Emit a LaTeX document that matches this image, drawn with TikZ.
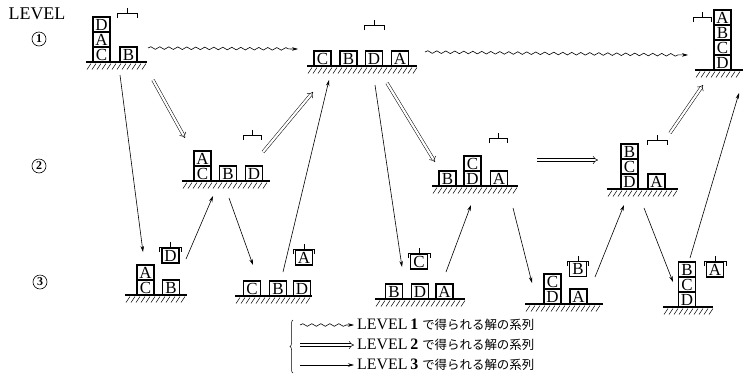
\documentclass[tikz,border=0pt]{standalone}
\usepackage{fontspec}
\setmainfont{Liberation Serif}
\newfontfamily\jpfont{Noto Sans CJK JP}
\usepackage{tikz}
\usetikzlibrary{arrows.meta,decorations.pathmorphing,decorations.pathreplacing}

% ground line with short hatching below: x1, x2, y
\newcommand{\groundline}[3]{%
  \draw[floor] (#1,#3) -- (#2,#3);
  \pgfmathtruncatemacro{\nh}{(#2-#1)/5}
  \foreach \i in {1,...,\nh} {\draw[hatch] (#1+\i*5,#3+1.5) -- ++(-4,6);}
}
% gripper: centre x, y, half width
\newcommand{\hand}[3]{%
  \draw[hook] (#1-#3,#2+5) -- (#1-#3,#2) -- (#1+#3,#2) -- (#1+#3,#2+5);
  \draw[hook] (#1,#2) -- (#1,#2-5);
}

\begin{document}
\begin{tikzpicture}[x=1bp, y=-1bp,
  blk/.style={draw, line width=1.1bp, minimum width=17bp, minimum height=15bp,
    inner sep=0pt, text height=11bp, text depth=0bp,
    font=\fontsize{17}{17}\selectfont},
  floor/.style={line width=1.2bp},
  hatch/.style={line width=0.5bp},
  hook/.style={line width=0.9bp},
  lvl/.style={circle, draw, line width=0.6bp, inner sep=0pt, minimum size=14bp,
    font=\fontsize{12}{12}\selectfont\bfseries},
  seq3/.style={line width=0.6bp, -{Stealth[length=6bp,width=3.5bp]}},
  seq2/.style={double, double distance=2.2bp, line width=0.5bp,
    -{Implies[length=4bp]}},
  seq1/.style={line width=0.6bp, decorate,
    decoration={snake, amplitude=1.3bp, segment length=9bp, post length=6bp},
    -{Stealth[length=6bp,width=3.5bp]}},
  legend/.style={anchor=west, inner sep=3bp, font=\fontsize{16}{16}\selectfont}
]
\useasboundingbox (0,0) rectangle (743,383);

% level labels
\node[font=\fontsize{18}{18}\selectfont] (lev) at (37,14) {LEVEL};
\node[lvl] (lev1) at (39,39) {1};
\node[lvl] (lev2) at (39,166) {2};
\node[lvl] (lev3) at (40,282) {3};

% LEVEL 1: start
\groundline{86}{147}{62}
\node[blk] (ini-C) at (101.5,54.5) {C};
\node[blk] (ini-A) at (101.5,39.5) {A};
\node[blk] (ini-D) at (101.5,24.5) {D};
\node[blk] (ini-B) at (128.5,54.5) {B};
\hand{127}{13}{10}

% LEVEL 1: middle
\groundline{307}{417}{66}
\node[blk] (mid-C) at (322.5,58.5) {C};
\node[blk] (mid-B) at (348.5,58.5) {B};
\node[blk] (mid-D) at (374,58.5) {D};
\node[blk] (mid-A) at (400,58.5) {A};
\hand{374}{25}{10}

% LEVEL 1: goal
\groundline{695}{743}{70}
\node[blk] (fin-D) at (722.5,62.5) {D};
\node[blk] (fin-C) at (722.5,47.5) {C};
\node[blk] (fin-B) at (722.5,32.5) {B};
\node[blk] (fin-A) at (722.5,17.5) {A};
\hand{702}{17}{9}

% LEVEL 2
\groundline{182}{270}{181}
\node[blk] (p1-C) at (202.5,173.5) {C};
\node[blk] (p1-A) at (202.5,158.5) {A};
\node[blk] (p1-B) at (228,173.5) {B};
\node[blk] (p1-D) at (254,173.5) {D};
\hand{252}{135}{9}

\groundline{432}{518}{186}
\node[blk] (p2-B) at (447.5,178.5) {B};
\node[blk] (p2-D) at (472.5,178.5) {D};
\node[blk] (p2-C) at (472.5,163.5) {C};
\node[blk] (p2-A) at (499,178.5) {A};
\hand{498}{138}{9}

\groundline{607}{678}{189}
\node[blk] (p3-D) at (629.5,181.5) {D};
\node[blk] (p3-C) at (629.5,166.5) {C};
\node[blk] (p3-B) at (629.5,151.5) {B};
\node[blk] (p3-A) at (656.5,181.5) {A};
\hand{657}{140}{10}

% LEVEL 3
\groundline{125}{187}{295}
\node[blk] (q1-C) at (145.5,287.5) {C};
\node[blk] (q1-A) at (145.5,272.5) {A};
\node[blk] (q1-B) at (171,287.5) {B};
\node[blk] (q1-D) at (170.5,255.5) {D};
\hand{170.5}{247}{11}

\groundline{235}{312}{296}
\node[blk] (q2-C) at (252,288.5) {C};
\node[blk] (q2-B) at (278,288.5) {B};
\node[blk] (q2-D) at (302,288.5) {D};
\node[blk] (q2-A) at (304,257.5) {A};
\hand{304}{249}{10.5}

\groundline{375}{465}{299}
\node[blk] (q3-B) at (394,291.5) {B};
\node[blk] (q3-D) at (420,291.5) {D};
\node[blk] (q3-A) at (444.5,291.5) {A};
\node[blk] (q3-C) at (419,261.5) {C};
\hand{419}{253}{11}

\groundline{525}{603}{304}
\node[blk] (q4-D) at (552.5,296.5) {D};
\node[blk] (q4-C) at (552.5,281.5) {C};
\node[blk] (q4-A) at (578.5,296.5) {A};
\node[blk] (q4-B) at (578,269) {B};
\hand{578}{261}{10.5}

\groundline{663}{713}{307}
\node[blk] (q5-D) at (687,299.5) {D};
\node[blk] (q5-C) at (687,284.5) {C};
\node[blk] (q5-B) at (687,269.5) {B};
\node[blk] (q5-A) at (715,269.5) {A};
\hand{715}{261}{11}

% arrow ends
\coordinate (ini-e) at (148,48);
\coordinate (ini-s1) at (120,75);
\coordinate (ini-s2) at (153,80);
\coordinate (mid-w) at (298,49);
\coordinate (mid-e) at (425,52);
\coordinate (mid-n1) at (313,92);
\coordinate (mid-n2) at (329,80);
\coordinate (mid-s1) at (375,85);
\coordinate (mid-s2) at (387,83);
\coordinate (fin-w) at (688,55);
\coordinate (fin-n1) at (703,85);
\coordinate (fin-n2) at (739,93);
\coordinate (p1-nw) at (185,138);
\coordinate (p1-ne) at (263,152);
\coordinate (p1-n) at (213,196);
\coordinate (p1-s) at (229,198);
\coordinate (p2-nw) at (435,162);
\coordinate (p2-e) at (537,160);
\coordinate (p2-n) at (471,205);
\coordinate (p2-s) at (513,208);
\coordinate (p3-w) at (598,160);
\coordinate (p3-ne) at (670,133);
\coordinate (p3-n) at (624,205);
\coordinate (p3-s) at (644,208);
\coordinate (q1-in) at (143,252);
\coordinate (q1-out) at (186,259);
\coordinate (q2-in) at (253,265);
\coordinate (q2-out) at (283,272);
\coordinate (q3-in) at (402,267);
\coordinate (q3-out) at (446,272);
\coordinate (q4-in) at (532,283);
\coordinate (q4-out) at (595,277);
\coordinate (q5-in) at (673,282);
\coordinate (q5-out) at (690,258);

% LEVEL 1 sequence
\draw[seq1] (ini-e) -- (mid-w);
\draw[seq1] (mid-e) -- (fin-w);

% LEVEL 2 sequence
\draw[seq2] (ini-s2) -- (p1-nw);
\draw[seq2] (p1-ne) -- (mid-n1);
\draw[seq2] (mid-s2) -- (p2-nw);
\draw[seq2] (p2-e) -- (p3-w);
\draw[seq2] (p3-ne) -- (fin-n1);

% LEVEL 3 sequence
\draw[seq3] (ini-s1) -- (q1-in);
\draw[seq3] (q1-out) -- (p1-n);
\draw[seq3] (p1-s) -- (q2-in);
\draw[seq3] (q2-out) -- (mid-n2);
\draw[seq3] (mid-s1) -- (q3-in);
\draw[seq3] (q3-out) -- (p2-n);
\draw[seq3] (p2-s) -- (q4-in);
\draw[seq3] (q4-out) -- (p3-n);
\draw[seq3] (p3-s) -- (q5-in);
\draw[seq3] (q5-out) -- (fin-n2);

% legend
\node[legend] (t1) at (354,325) {LEVEL\,\textbf{1} {\jpfont\fontsize{12.5}{12.5}\selectfont で得られる解の系列}};
\node[legend] (t2) at (354,345) {LEVEL\,\textbf{2} {\jpfont\fontsize{12.5}{12.5}\selectfont で得られる解の系列}};
\node[legend] (t3) at (354,365) {LEVEL\,\textbf{3} {\jpfont\fontsize{12.5}{12.5}\selectfont で得られる解の系列}};
\coordinate (k1) at (300,325);
\coordinate (k2) at (300,345);
\coordinate (k3) at (300,365);
\draw[seq1] (k1) -- (t1.west);
\draw[seq2] (k2) -- (t2.west);
\draw[seq3] (k3) -- (t3.west);
\coordinate (br-b) at (293,373);
\coordinate (br-t) at (293,320);
\draw[line width=0.5bp, decorate, decoration={brace, amplitude=3bp}] (br-b) -- (br-t);
\end{tikzpicture}
\end{document}
